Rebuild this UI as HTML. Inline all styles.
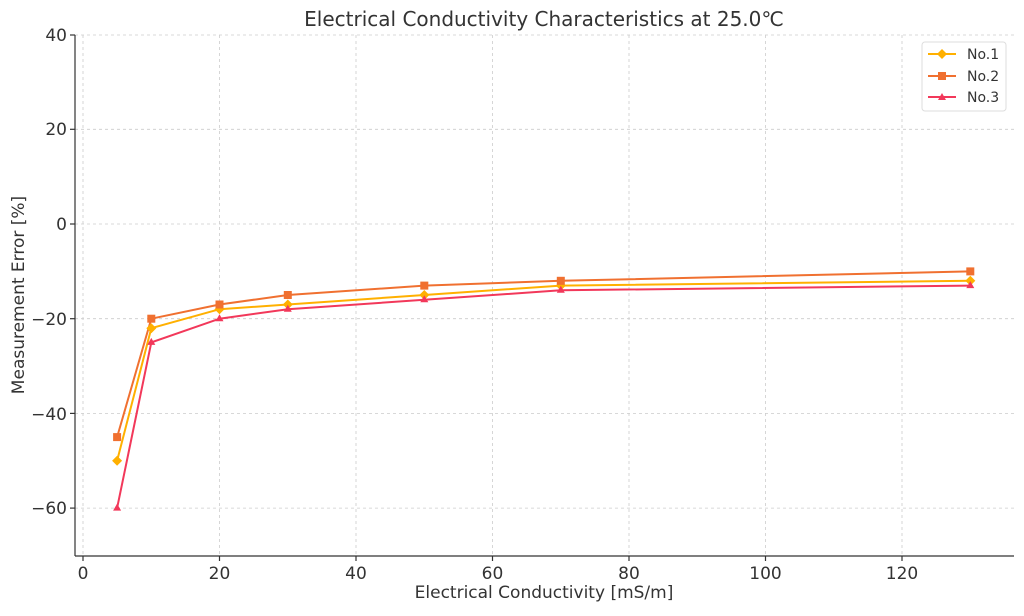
<!DOCTYPE html>
<html><head><meta charset="utf-8"><style>
html,body{margin:0;padding:0;background:#fff;}
svg text{font-family:"DejaVu Sans","Liberation Sans",sans-serif;fill:#333;}
</style></head><body>
<svg width="1024" height="611" viewBox="0 0 1024 611" xmlns="http://www.w3.org/2000/svg">
<rect width="1024" height="611" fill="#fff"/>
<text x="544" y="26" font-size="20" text-anchor="middle">Electrical Conductivity Characteristics at 25.0℃</text>
<g stroke="#ccc" stroke-width="0.8" stroke-dasharray="3,3">
<line x1="83" y1="35" x2="83" y2="556"/><line x1="219.5" y1="35" x2="219.5" y2="556"/><line x1="356" y1="35" x2="356" y2="556"/><line x1="492.5" y1="35" x2="492.5" y2="556"/><line x1="629" y1="35" x2="629" y2="556"/><line x1="765.5" y1="35" x2="765.5" y2="556"/><line x1="902" y1="35" x2="902" y2="556"/>
<line x1="75" y1="35" x2="1014" y2="35"/><line x1="75" y1="129.3" x2="1014" y2="129.3"/><line x1="75" y1="224" x2="1014" y2="224"/><line x1="75" y1="318.7" x2="1014" y2="318.7"/><line x1="75" y1="413.4" x2="1014" y2="413.4"/><line x1="75" y1="508.1" x2="1014" y2="508.1"/>
</g>
<g stroke="#333" stroke-width="1.2">
<line x1="75" y1="35" x2="75" y2="556"/><line x1="75" y1="556" x2="1014" y2="556"/>
<line x1="70" y1="35" x2="75" y2="35"/><line x1="70" y1="129.3" x2="75" y2="129.3"/><line x1="70" y1="224" x2="75" y2="224"/><line x1="70" y1="318.7" x2="75" y2="318.7"/><line x1="70" y1="413.4" x2="75" y2="413.4"/><line x1="70" y1="508.1" x2="75" y2="508.1"/>
<line x1="83" y1="556" x2="83" y2="561"/><line x1="219.5" y1="556" x2="219.5" y2="561"/><line x1="356" y1="556" x2="356" y2="561"/><line x1="492.5" y1="556" x2="492.5" y2="561"/><line x1="629" y1="556" x2="629" y2="561"/><line x1="765.5" y1="556" x2="765.5" y2="561"/><line x1="902" y1="556" x2="902" y2="561"/>
</g>
<g font-size="17" text-anchor="end">
<text x="67" y="41">40</text><text x="67" y="135">20</text><text x="67" y="230">0</text><text x="67" y="325">−20</text><text x="67" y="420">−40</text><text x="67" y="514">−60</text>
</g>
<g font-size="17" text-anchor="middle">
<text x="83" y="579">0</text><text x="219.5" y="579">20</text><text x="356" y="579">40</text><text x="492.5" y="579">60</text><text x="629" y="579">80</text><text x="765.5" y="579">100</text><text x="902" y="579">120</text>
</g>
<text x="544" y="598" font-size="17" text-anchor="middle">Electrical Conductivity [mS/m]</text>
<text transform="translate(24,295) rotate(-90)" font-size="17" text-anchor="middle">Measurement Error [%]</text>
<g fill="none" stroke-width="2">
<polyline stroke="#FFB000" points="117.1,460.8 151.3,328.2 219.5,309.2 287.8,304.5 424.3,295 560.8,285.6 970.3,280.8"/>
<polyline stroke="#F07030" points="117.1,437.1 151.3,318.7 219.5,304.5 287.8,295 424.3,285.6 560.8,280.8 970.3,271.4"/>
<polyline stroke="#F2385A" points="117.1,508.1 151.3,342.4 219.5,318.7 287.8,309.2 424.3,299.8 560.8,290.3 970.3,285.6"/>
</g>
<g fill="#FFB000">
<path d="M117.1,455.8l5,5l-5,5l-5,-5z"/><path d="M151.3,323.2l5,5l-5,5l-5,-5z"/><path d="M219.5,304.2l5,5l-5,5l-5,-5z"/><path d="M287.8,299.5l5,5l-5,5l-5,-5z"/><path d="M424.3,290l5,5l-5,5l-5,-5z"/><path d="M560.8,280.6l5,5l-5,5l-5,-5z"/><path d="M970.3,275.8l5,5l-5,5l-5,-5z"/>
</g>
<g fill="#F07030">
<rect x="113.1" y="433.1" width="8" height="8"/><rect x="147.3" y="314.7" width="8" height="8"/><rect x="215.5" y="300.5" width="8" height="8"/><rect x="283.8" y="291" width="8" height="8"/><rect x="420.3" y="281.6" width="8" height="8"/><rect x="556.8" y="276.8" width="8" height="8"/><rect x="966.3" y="267.4" width="8" height="8"/>
</g>
<g fill="#F2385A">
<path d="M117.1,503.6l4,7h-8z"/><path d="M151.3,337.9l4,7h-8z"/><path d="M219.5,314.2l4,7h-8z"/><path d="M287.8,304.7l4,7h-8z"/><path d="M424.3,295.3l4,7h-8z"/><path d="M560.8,285.8l4,7h-8z"/><path d="M970.3,281.1l4,7h-8z"/>
</g>
<rect x="922" y="42" width="84" height="69" fill="#fff" stroke="#ddd" rx="3"/>
<g stroke-width="2">
<line x1="928" y1="54" x2="956" y2="54" stroke="#FFB000"/><line x1="928" y1="76" x2="956" y2="76" stroke="#F07030"/><line x1="928" y1="97" x2="956" y2="97" stroke="#F2385A"/>
</g>
<path d="M942,49l5,5l-5,5l-5,-5z" fill="#FFB000"/>
<rect x="938" y="72" width="8" height="8" fill="#F07030"/>
<path d="M942,93l4,7h-8z" fill="#F2385A"/>
<g font-size="14"><text x="967" y="59">No.1</text><text x="967" y="81">No.2</text><text x="967" y="102">No.3</text></g>
</svg>
</body></html>
